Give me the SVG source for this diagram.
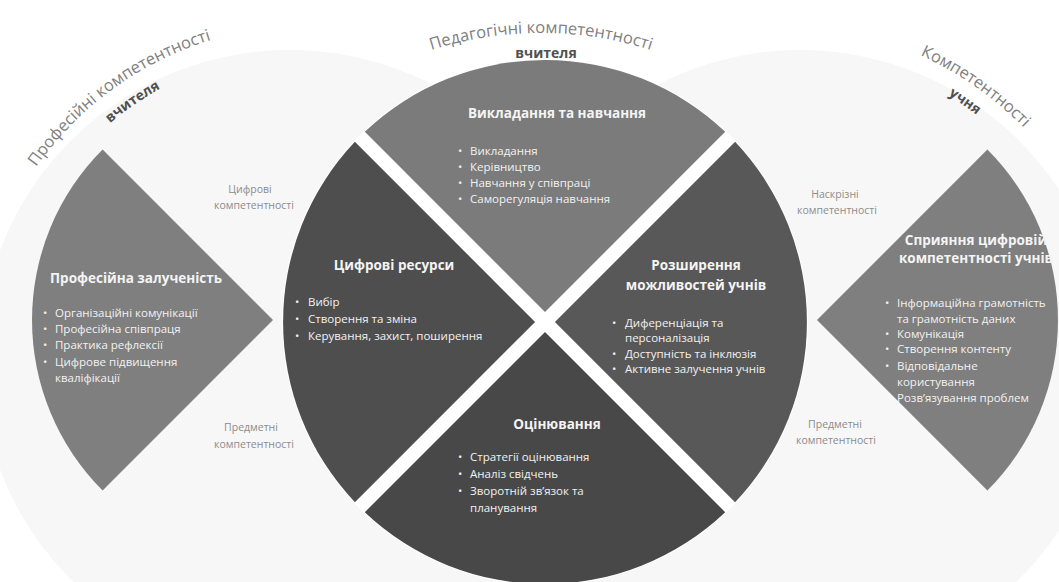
<svg xmlns="http://www.w3.org/2000/svg" width="1059" height="582" viewBox="0 0 1059 582">
<style>
.t{font-family:"Open Sans","Liberation Sans",sans-serif;fill:#f2f2f2;font-size:11.5px}
.h{font-family:"Open Sans","Liberation Sans",sans-serif;fill:#f4f4f4;font-size:13.5px;font-weight:bold;text-anchor:middle}
.g{font-family:"Open Sans","Liberation Sans",sans-serif;fill:#8c8c8c;font-size:10.5px;text-anchor:middle}
.arc1{font-family:"Open Sans","Liberation Sans",sans-serif;fill:#808080;font-size:16.5px}
.arc2{font-family:"Open Sans","Liberation Sans",sans-serif;fill:#505050;font-size:14px;font-weight:bold}
</style>
<defs>
<path id="pl1" d="M -4.8 245.4 A 335 335 0 0 1 298.3 25.2"/>
<path id="pl2" d="M 57.6 180 A 310 310 0 0 1 232.4 60"/>
<path id="pt1" d="M 309.6 117.2 A 360 360 0 0 1 772.4 117.2"/>
<path id="pr1" d="M 770 22 A 358 358 0 0 1 1106.4 257.6"/>
<path id="pr2" d="M 828.3 49.1 A 336 336 0 0 1 1061 212"/>
</defs>
<rect width="1059" height="582" fill="#ffffff"/>
<g id="background">
<circle cx="290" cy="360" r="310" fill="#f7f7f7"/>
<circle cx="800" cy="360" r="310" fill="#f7f7f7"/>
<circle cx="545" cy="322" r="263" fill="#ffffff"/>
</g>
<g id="titles">
<text class="arc1"><textPath href="#pl1" startOffset="50%" text-anchor="middle">Професійні компетентності</textPath></text>
<text class="arc2"><textPath href="#pl2" startOffset="50%" text-anchor="middle">вчителя</textPath></text>
<text class="arc1"><textPath href="#pt1" startOffset="50%" text-anchor="middle">Педагогічні компетентності</textPath></text>
<text class="arc2" x="546" y="58" text-anchor="middle" font-size="13.5">вчителя</text>
<text class="arc1"><textPath href="#pr1" startOffset="50%" text-anchor="middle">Компетентності</textPath></text>
<text class="arc2"><textPath href="#pr2" startOffset="50%" text-anchor="middle">учня</textPath></text>
</g>
<g id="node-professional">
<path d="M 273 320 L 102.6 490.4 A 241 241 0 0 1 102.6 149.6 Z" fill="#7f7f7f"/>
<text class="h" x="136" y="283">Професійна залученість</text>
<text class="t" x="43" y="317">•</text><text class="t" x="55" y="317">Організаційні комунікації</text>
<text class="t" x="43" y="333">•</text><text class="t" x="55" y="333">Професійна співпраця</text>
<text class="t" x="43" y="349">•</text><text class="t" x="55" y="349">Практика рефлексії</text>
<text class="t" x="43" y="366">•</text><text class="t" x="55" y="366">Цифрове підвищення</text>
<text class="t" x="55" y="382">кваліфікації</text>
</g>
<g id="node-teaching">
<path d="M 545 312 L 364.8 131.8 A 262 262 0 0 1 725.2 131.8 Z" fill="#7b7b7b"/>
<text class="h" x="557" y="118">Викладання та навчання</text>
<text class="t" x="458" y="155">•</text><text class="t" x="470" y="155">Викладання</text>
<text class="t" x="458" y="171">•</text><text class="t" x="470" y="171">Керівництво</text>
<text class="t" x="458" y="187">•</text><text class="t" x="470" y="187">Навчання у співпраці</text>
<text class="t" x="458" y="203">•</text><text class="t" x="470" y="203">Саморегуляція навчання</text>
</g>
<g id="node-resources">
<path d="M 535.1 322 L 354.9 502.2 A 262 262 0 0 1 354.9 141.8 Z" fill="#4e4e4e"/>
<text class="h" x="394" y="270">Цифрові ресурси</text>
<text class="t" x="295" y="306">•</text><text class="t" x="308" y="306">Вибір</text>
<text class="t" x="295" y="323">•</text><text class="t" x="308" y="323">Створення та зміна</text>
<text class="t" x="295" y="340">•</text><text class="t" x="308" y="340">Керування, захист, поширення</text>
</g>
<g id="node-empowering">
<path d="M 554.9 322 L 735.1 141.8 A 262 262 0 0 1 735.1 502.2 Z" fill="#585858"/>
<text class="h" x="696" y="270">Розширення</text>
<text class="h" x="696" y="290">можливостей учнів</text>
<text class="t" x="612" y="327">•</text><text class="t" x="625" y="327">Диференціація та</text>
<text class="t" x="625" y="342">персоналізація</text>
<text class="t" x="612" y="358">•</text><text class="t" x="625" y="358">Доступність та інклюзія</text>
<text class="t" x="612" y="373">•</text><text class="t" x="625" y="373">Активне залучення учнів</text>
</g>
<g id="node-assessment">
<path d="M 545 331.9 L 725.2 512.2 A 262 262 0 0 1 364.8 512.2 Z" fill="#484848"/>
<text class="h" x="557" y="429">Оцінювання</text>
<text class="t" x="458" y="461">•</text><text class="t" x="470" y="461">Стратегії оцінювання</text>
<text class="t" x="458" y="478">•</text><text class="t" x="470" y="478">Аналіз свідчень</text>
<text class="t" x="458" y="495">•</text><text class="t" x="470" y="495">Зворотній зв’язок та</text>
<text class="t" x="470" y="512">планування</text>
</g>
<g id="node-learners">
<path d="M 817 320 L 987.4 149.6 A 241 241 0 0 1 987.4 490.4 Z" fill="#7f7f7f"/>
<text class="h" x="976" y="245">Сприяння цифровій</text>
<text class="h" x="976" y="263">компетентності учнів</text>
<text class="t" x="885" y="307">•</text><text class="t" x="897" y="307">Інформаційна грамотність</text>
<text class="t" x="897" y="323">та грамотність даних</text>
<text class="t" x="885" y="338">•</text><text class="t" x="897" y="338">Комунікація</text>
<text class="t" x="885" y="353">•</text><text class="t" x="897" y="353">Створення контенту</text>
<text class="t" x="885" y="370">•</text><text class="t" x="897" y="370">Відповідальне</text>
<text class="t" x="897" y="386">користування</text>
<text class="t" x="897" y="402">Розв’язування проблем</text>
</g>
<g id="labels">
<text class="g" x="250" y="193">Цифрові</text>
<text class="g" x="254" y="209">компетентності</text>
<text class="g" x="251" y="431">Предметні</text>
<text class="g" x="254" y="448">компетентності</text>
<text class="g" x="835" y="198">Наскрізні</text>
<text class="g" x="837" y="214">компетентності</text>
<text class="g" x="835" y="428">Предметні</text>
<text class="g" x="836" y="444">компетентності</text>
</g>
<g id="connectors"></g>
</svg>
